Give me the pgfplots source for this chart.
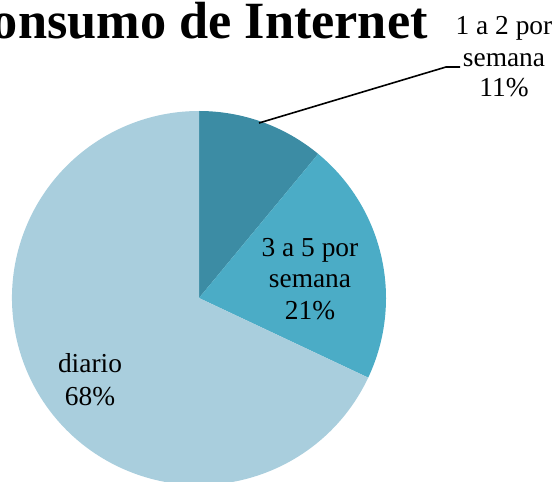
\documentclass[border=0pt]{standalone}
\usepackage{pgfplots}
\pgfplotsset{compat=1.18}
\usepackage{fontspec}
\setmainfont{Liberation Serif}
\definecolor{sA}{RGB}{60,140,164}
\definecolor{sB}{RGB}{75,172,198}
\definecolor{sC}{RGB}{169,206,221}
% values (percent)
\def\vA{11}\def\vB{21}\def\vC{68}
\begin{document}
\begin{tikzpicture}
\begin{axis}[
  width=558bp, height=482bp, scale only axis,
  xmin=0, xmax=558, ymin=0, ymax=482,
  hide axis, clip=false]
\pgfmathsetmacro{\aA}{90-3.6*\vA}
\pgfmathsetmacro{\aB}{\aA-3.6*\vB}
\pgfmathsetmacro{\aC}{\aB-3.6*\vC}
\fill[sA] (axis cs:199,184) -- ++(90:187bp) arc[start angle=90, end angle=\aA, radius=187bp] -- cycle;
\fill[sB] (axis cs:199,184) -- ++(\aA:187bp) arc[start angle=\aA, end angle=\aB, radius=187bp] -- cycle;
\fill[sC] (axis cs:199,184) -- ++(\aB:187bp) arc[start angle=\aB, end angle=\aC, radius=187bp] -- cycle;
\draw[black, line width=1.6bp] (axis cs:259,359) -- (axis cs:446,415) -- (axis cs:460,415);
\node[anchor=base east, font=\fontsize{52.5}{60}\selectfont\bfseries, inner sep=0pt] at (axis cs:428,443) {Consumo de Internet};
\node[anchor=base, font=\fontsize{27.5}{31}\selectfont, inner sep=0pt] at (axis cs:504,447) {1 a 2 por};
\node[anchor=base, font=\fontsize{27.5}{31}\selectfont, inner sep=0pt] at (axis cs:504,415) {semana};
\node[anchor=base, font=\fontsize{27.5}{31}\selectfont, inner sep=0pt] at (axis cs:504,385) {\vA\%};
\node[anchor=base, font=\fontsize{27.5}{31}\selectfont, inner sep=0pt] at (axis cs:310,225) {3 a 5 por};
\node[anchor=base, font=\fontsize{27.5}{31}\selectfont, inner sep=0pt] at (axis cs:310,194) {semana};
\node[anchor=base, font=\fontsize{27.5}{31}\selectfont, inner sep=0pt] at (axis cs:310,162) {\vB\%};
\node[anchor=base, font=\fontsize{27.5}{31}\selectfont, inner sep=0pt] at (axis cs:90,109) {diario};
\node[anchor=base, font=\fontsize{27.5}{31}\selectfont, inner sep=0pt] at (axis cs:90,77) {\vC\%};
\end{axis}
\pgfresetboundingbox
\path[use as bounding box] (0,0) rectangle (558bp,482bp);
\end{tikzpicture}
\end{document}
